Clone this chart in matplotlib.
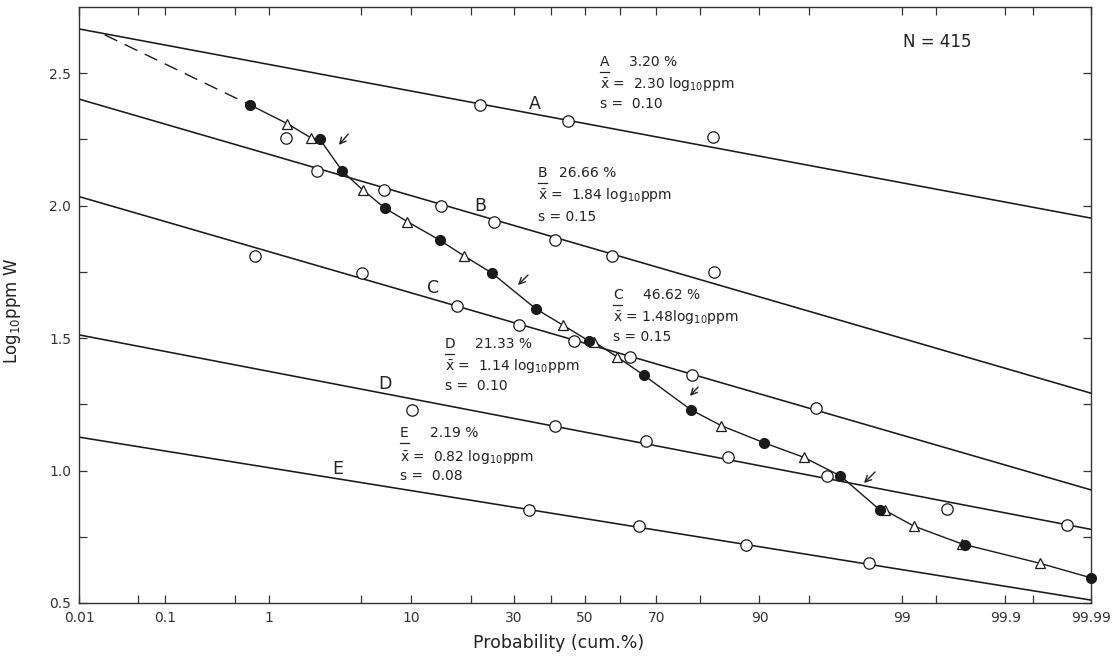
import math
import numpy as np
import matplotlib
matplotlib.use("Agg")
import matplotlib.pyplot as plt
from matplotlib.lines import Line2D

plt.rcParams['font.family'] = ['DejaVu Sans']
plt.rcParams['mathtext.fontset'] = 'dejavusans'

W, H = 1119, 667

# ---------------- data (probability in cum. %, value in log10 ppm W) ----------------
# fitted population lines A..E : value at left edge (0.01 %) and right edge (99.99 %)
line_names = ["A", "B", "C", "D", "E"]
line_p_ends = [0.01, 99.99]
line_left_v = [2.667, 2.402, 2.034, 1.512, 1.126]
line_right_v = [1.953, 1.292, 0.927, 0.778, 0.511]

# open circles belonging to each population
circ_A_p = [21.9, 45.1, 82.6]
circ_A_v = [2.38, 2.32, 2.26]
circ_B_p = [1.39, 2.45, 6.96, 14.4, 25.1, 41.1, 57.7, 82.8]
circ_B_v = [2.255, 2.13, 2.06, 2.00, 1.94, 1.87, 1.81, 1.75]
circ_C_p = [0.766, 5.03, 17.3, 31.4, 46.6, 62.9, 78.3, 95.5]
circ_C_v = [1.81, 1.745, 1.62, 1.55, 1.49, 1.43, 1.36, 1.235]
circ_D_p = [10.1, 41.3, 67.4, 85.4, 96.23, 99.61, 99.98]
circ_D_v = [1.23, 1.17, 1.11, 1.05, 0.98, 0.855, 0.795]
circ_E_p = [34.07, 65.4, 88.2, 98.17]
circ_E_v = [0.85, 0.79, 0.72, 0.65]

# observed cumulative curve: filled circles and open triangles
filled_p = [0.69, 2.56, 3.72, 7.07, 14.24, 24.7, 35.9, 51.0, 66.7, 78.1, 90.57, 96.97, 98.50, 99.74, 99.99]
filled_v = [2.38, 2.25, 2.13, 1.99, 1.87, 1.745, 1.61, 1.49, 1.36, 1.23, 1.105, 0.98, 0.85, 0.72, 0.595]
tri_p = [1.42, 2.21, 5.09, 9.55, 18.7, 43.4, 52.7, 59.2, 84.1, 94.6, 98.62, 99.22, 99.72, 99.9585]
tri_v = [2.31, 2.255, 2.06, 1.94, 1.81, 1.55, 1.485, 1.43, 1.17, 1.05, 0.85, 0.79, 0.723, 0.65]

# dashed extrapolation to line A
dash_p = [0.0206, 0.69]
dash_v = [2.645, 2.38]

x_major = [0.01, 0.1, 1, 10, 30, 50, 70, 90, 99, 99.9, 99.99]
x_major_labels = ["0.01", "0.1", "1", "10", "30", "50", "70", "90", "99", "99.9", "99.99"]
x_minor = [0.05, 0.5, 5, 20, 40, 60, 80, 95, 99.5, 99.95]
y_major = [0.5, 1.0, 1.5, 2.0, 2.5]
y_major_labels = ["0.5", "1.0", "1.5", "2.0", "2.5"]
y_minor = [0.75, 1.25, 1.75, 2.25]

annotations = [
    # letter, percent, mean text, s text
    ("A", "3.20 %", r"$\bar{\mathrm{x}}$ =  2.30 log$_{10}$ppm", "s =  0.10"),
    ("B", "26.66 %", r"$\bar{\mathrm{x}}$ =  1.84 log$_{10}$ppm", "s = 0.15"),
    ("C", "46.62 %", r"$\bar{\mathrm{x}}$ = 1.48log$_{10}$ppm", "s = 0.15"),
    ("D", "21.33 %", r"$\bar{\mathrm{x}}$ =  1.14 log$_{10}$ppm", "s =  0.10"),
    ("E", "2.19 %", r"$\bar{\mathrm{x}}$ =  0.82 log$_{10}$ppm", "s =  0.08"),
]

# ---------------- probability (normal) scale ----------------
_a = [-3.969683028665376e+01, 2.209460984245205e+02, -2.759285104469687e+02,
      1.383577518672690e+02, -3.066479806614716e+01, 2.506628277459239e+00]
_b = [-5.447609879822406e+01, 1.615858368580409e+02, -1.556989798598866e+02,
      6.680131188771972e+01, -1.328068155288572e+01]
_c = [-7.784894002430293e-03, -3.223964580411365e-01, -2.400758277161838e+00,
      -2.549732539343734e+00, 4.374664141464968e+00, 2.938163982698783e+00]
_d = [7.784695709041462e-03, 3.224671290700398e-01, 2.445134137142996e+00,
      3.754408661907416e+00]


def _ppf(q):
    q = np.asarray(q, dtype=float)
    shape = q.shape
    q = np.clip(np.atleast_1d(q).ravel(), 1e-15, 1 - 1e-15)
    z = np.empty_like(q)
    plow = 0.02425
    lo = q < plow
    hi = q > 1 - plow
    mid = ~(lo | hi)
    if lo.any():
        t = np.sqrt(-2 * np.log(q[lo]))
        z[lo] = (((((_c[0]*t+_c[1])*t+_c[2])*t+_c[3])*t+_c[4])*t+_c[5]) / \
                ((((_d[0]*t+_d[1])*t+_d[2])*t+_d[3])*t+1)
    if hi.any():
        t = np.sqrt(-2 * np.log(1 - q[hi]))
        z[hi] = -(((((_c[0]*t+_c[1])*t+_c[2])*t+_c[3])*t+_c[4])*t+_c[5]) / \
                ((((_d[0]*t+_d[1])*t+_d[2])*t+_d[3])*t+1)
    if mid.any():
        r = q[mid] - 0.5
        s = r * r
        z[mid] = (((((_a[0]*s+_a[1])*s+_a[2])*s+_a[3])*s+_a[4])*s+_a[5])*r / \
                 (((((_b[0]*s+_b[1])*s+_b[2])*s+_b[3])*s+_b[4])*s+1)
    return z.reshape(shape)


_erfc = np.vectorize(math.erfc, otypes=[float])


def fwd(p):
    return _ppf(np.asarray(p, dtype=float) / 100.0)


def inv(z):
    z = np.asarray(z, dtype=float)
    return 100.0 * 0.5 * _erfc(-z / math.sqrt(2.0))


# ---------------- figure ----------------
fig = plt.figure(figsize=(W / 100, H / 100), dpi=100)
L, R, T, B = 79.3, 1091.0, 7.0, 603.0
ax = fig.add_axes([L / W, 1 - B / H, (R - L) / W, (B - T) / H])
ax.set_xscale('function', functions=(fwd, inv))
ax.set_xlim(0.01, 99.99)
ax.set_ylim(0.5, 2.75)

lc = '#1a1a1a'
# population lines
for lv, rv in zip(line_left_v, line_right_v):
    ax.plot(line_p_ends, [lv, rv], color=lc, lw=1.15, zorder=2)

# observed curve
curve = sorted(zip(filled_p + tri_p, filled_v + tri_v))
ax.plot([c[0] for c in curve], [c[1] for c in curve], color=lc, lw=1.0, zorder=2)
ax.plot(dash_p, dash_v, color=lc, lw=1.0, linestyle=(0, (10, 6)), zorder=2)

# open circles
for cp, cv in [(circ_A_p, circ_A_v), (circ_B_p, circ_B_v), (circ_C_p, circ_C_v),
               (circ_D_p, circ_D_v), (circ_E_p, circ_E_v)]:
    ax.plot(cp, cv, linestyle='none', marker='o', ms=8.2, mfc='white', mec=lc,
            mew=0.9, zorder=3, clip_on=False)

ax.plot(tri_p, tri_v, linestyle='none', marker='^', ms=7.8, mfc='white', mec=lc,
        mew=0.9, zorder=4, clip_on=False)
ax.plot(filled_p, filled_v, linestyle='none', marker='o', ms=7.2, mfc=lc, mec=lc,
        mew=0.8, zorder=5, clip_on=False)

# axes styling
ax.set_xticks(x_major)
ax.set_xticklabels(x_major_labels)
ax.set_xticks(x_minor, minor=True)
ax.set_yticks(y_major)
ax.set_yticklabels(y_major_labels)
ax.set_yticks(y_minor, minor=True)
ax.tick_params(which='both', direction='in', top=True, right=True, length=5.5,
               width=0.9, colors='#333333', labelsize=10, pad=6)
ax.tick_params(which='minor', labelbottom=False, labelleft=False)
for sp in ax.spines.values():
    sp.set_linewidth(1.0)
    sp.set_color('#333333')

ax.set_xlabel("Probability (cum.%)", fontsize=12.5, color='#222222')
ax.xaxis.set_label_coords((559 - L) / (R - L), (B - 643) / (B - T))
ax.xaxis.label.set_va('center')
ax.set_ylabel(r"Log$_{10}$ppm W", fontsize=12, color='#222222')
ax.yaxis.set_label_coords((23 - L) / (R - L), (B - 311) / (B - T))


def ftext(px, py, s, **kw):
    kw.setdefault('va', 'center')
    kw.setdefault('color', '#222222')
    return fig.text(px / W, 1 - py / H, s, **kw)


# line letters
line_label_pos = [(535, 104), (480, 206), (433, 288), (385, 384), (338, 469)]
for name, (px, py) in zip(line_names, line_label_pos):
    ftext(px, py, name, fontsize=12.5, ha='center')

ftext(937, 42, "N = 415", fontsize=12, ha='center')

# annotation blocks: (x letter, x percent, row y's)
ann_pos = [
    (600, 629, (62, 84, 104)),
    (538, 559, (173, 195, 217)),
    (613, 643, (295, 317, 337)),
    (445, 475, (344, 366, 386)),
    (400, 430, (433, 457, 476)),
]
for (letter, pct, mean_txt, s_txt), (xl, xp, ys) in zip(annotations, ann_pos):
    ftext(xl, ys[0], letter, fontsize=10)
    fig.add_artist(Line2D([xl / W, (xl + 9) / W], [1 - (ys[0] + 9.5) / H] * 2,
                          color='#222222', lw=0.9))
    ftext(xp, ys[0], pct, fontsize=10)
    ftext(xl, ys[1], mean_txt, fontsize=10)
    ftext(xl, ys[2], s_txt, fontsize=10)

# arrows marking inflections
arrows = [((350, 132), (337, 147)), ((530, 273), (516, 287)),
          ((700, 385), (688, 398)), ((877, 470), (862, 485))]
for (x1, y1), (x2, y2) in arrows:
    fig.add_artist(matplotlib.patches.FancyArrowPatch(
        (x1 / W, 1 - y1 / H), (x2 / W, 1 - y2 / H), transform=fig.transFigure,
        arrowstyle='->', mutation_scale=11, lw=1.0, color='#222222'))

fig.savefig("out.png", dpi=100)
